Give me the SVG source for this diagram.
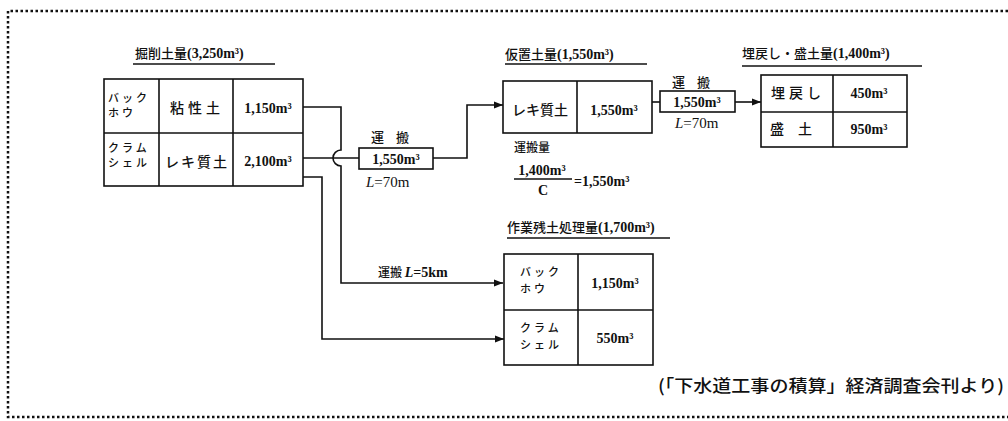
<svg xmlns="http://www.w3.org/2000/svg" width="1008" height="421" viewBox="0 0 1008 421">
<defs>
<marker id="arr" markerWidth="10" markerHeight="8" refX="9" refY="4" orient="auto" markerUnits="userSpaceOnUse">
<path d="M0,0.5 L9,4 L0,7.5 Z" fill="#111"/>
</marker>
<style>
.t{font-family:"Liberation Serif","Noto Sans CJK JP",serif;fill:#111;font-size:14px;font-weight:bold}
.n{font-family:"Liberation Serif","Noto Sans CJK JP",serif;fill:#111;font-size:14px;font-weight:bold}
.k{font-family:"Noto Sans CJK JP",sans-serif;fill:#111;font-size:13px;font-weight:500}
.s{font-family:"Noto Sans CJK JP",sans-serif;fill:#111;font-size:11px;letter-spacing:3px;font-weight:500}
.box{fill:#fff;stroke:#111;stroke-width:1.6}
.ln{fill:none;stroke:#111;stroke-width:1.6}
.ul{stroke:#111;stroke-width:1.3}
.c{text-anchor:middle}
</style>
</defs>
<rect width="1008" height="421" fill="#fff"/>
<path d="M1008,11 H8 V417 H1008" fill="none" stroke="#111" stroke-width="2.5" stroke-dasharray="2.5,2.5"/>

<g id="connectors">
<path class="ln" d="M303,107 H341 V150 A8,8 0 0 0 341,166 V283 H503" marker-end="url(#arr)"/>
<path class="ln" d="M303,158 H359"/>
<path class="ln" d="M433,158 H467 V105 H503" marker-end="url(#arr)"/>
<path class="ln" d="M303,177 H322 V339 H504" marker-end="url(#arr)"/>
<path class="ln" d="M652,102 H660"/>
<path class="ln" d="M735,102 H761" marker-end="url(#arr)"/>
</g>

<g id="excavation">
<text class="k" x="135" y="58">掘削土量<tspan class="t">(3,250m³)</tspan></text>
<line class="ul" x1="133" y1="64" x2="275" y2="64"/>
<rect class="box" x="104" y="79" width="199" height="107"/>
<line class="ln" x1="104" y1="133" x2="303" y2="133"/>
<line class="ln" x1="159" y1="79" x2="159" y2="186"/>
<line class="ln" x1="233" y1="79" x2="233" y2="186"/>
<text class="s" x="108" y="102">バック</text>
<text class="s" x="108" y="117">ホウ</text>
<text class="s" x="108" y="152">クラム</text>
<text class="s" x="108" y="167">シェル</text>
<text class="k c" x="197" y="113" style="letter-spacing:4px;font-size:14px">粘性土</text>
<text class="k c" x="197" y="167" style="letter-spacing:2px;font-size:14px">レキ質土</text>
<text class="n c" x="268" y="113">1,150m³</text>
<text class="n c" x="268" y="166">2,100m³</text>
</g>

<g id="transport1">
<text class="k c" x="396" y="142" style="letter-spacing:12px">運搬</text>
<rect class="box" x="359" y="148" width="74" height="21"/>
<text class="n c" x="396" y="164">1,550m³</text>
<text class="t" x="366" y="187" style="font-weight:normal;font-size:15px"><tspan font-style="italic">L</tspan>=70m</text>
</g>

<g id="temporary">
<text class="k" x="505" y="59">仮置土量<tspan class="t">(1,550m³)</tspan></text>
<line class="ul" x1="505" y1="64" x2="647" y2="64"/>
<rect class="box" x="503" y="81" width="149" height="52"/>
<line class="ln" x1="577" y1="81" x2="577" y2="133"/>
<text class="k c" x="540" y="115" style="font-size:14px">レキ質土</text>
<text class="n c" x="614" y="115">1,550m³</text>
<text class="k" x="514" y="152" style="font-size:12px">運搬量</text>
<text class="t c" x="542" y="175">1,400m³</text>
<line class="ul" x1="514" y1="179" x2="572" y2="179"/>
<text class="t c" x="543" y="195">C</text>
<text class="t" x="574" y="186">=1,550m³</text>
</g>

<g id="transport2">
<text class="k c" x="697" y="87" style="letter-spacing:12px">運搬</text>
<rect class="box" x="660" y="91" width="75" height="21"/>
<text class="n c" x="697" y="107">1,550m³</text>
<text class="t" x="675" y="128" style="font-weight:normal;font-size:15px"><tspan font-style="italic">L</tspan>=70m</text>
</g>

<g id="backfill">
<text class="k" x="742" y="58">埋戻し・盛土量<tspan class="t">(1,400m³)</tspan></text>
<line class="ul" x1="742" y1="66" x2="922" y2="66"/>
<rect class="box" x="761" y="75" width="146" height="72"/>
<line class="ln" x1="761" y1="112" x2="907" y2="112"/>
<line class="ln" x1="833" y1="75" x2="833" y2="147"/>
<text class="k c" x="798" y="98" style="letter-spacing:4px;font-size:14px">埋戻し</text>
<text class="n c" x="869" y="98">450m³</text>
<text class="k c" x="798" y="134" style="letter-spacing:14px;font-size:14px">盛土</text>
<text class="n c" x="869" y="134">950m³</text>
</g>

<text class="k" x="378" y="277" style="font-size:12px">運搬 <tspan class="t" font-style="italic">L</tspan><tspan class="t">=5km</tspan></text>

<g id="surplus">
<text class="k" x="507" y="232">作業残土処理量<tspan class="t">(1,700m³)</tspan></text>
<line class="ul" x1="507" y1="238" x2="670" y2="238"/>
<rect class="box" x="504" y="254" width="149" height="111"/>
<line class="ln" x1="504" y1="310" x2="653" y2="310"/>
<line class="ln" x1="578" y1="254" x2="578" y2="365"/>
<text class="s" x="520" y="276">バック</text>
<text class="s" x="520" y="293">ホウ</text>
<text class="s" x="520" y="332">クラム</text>
<text class="s" x="520" y="349">シェル</text>
<text class="n c" x="615" y="288">1,150m³</text>
<text class="n c" x="615" y="343">550m³</text>
</g>

<text class="k" x="658" y="392" style="font-size:17px" textLength="346" lengthAdjust="spacingAndGlyphs">(「下水道工事の積算」経済調査会刊より)</text>
</svg>
